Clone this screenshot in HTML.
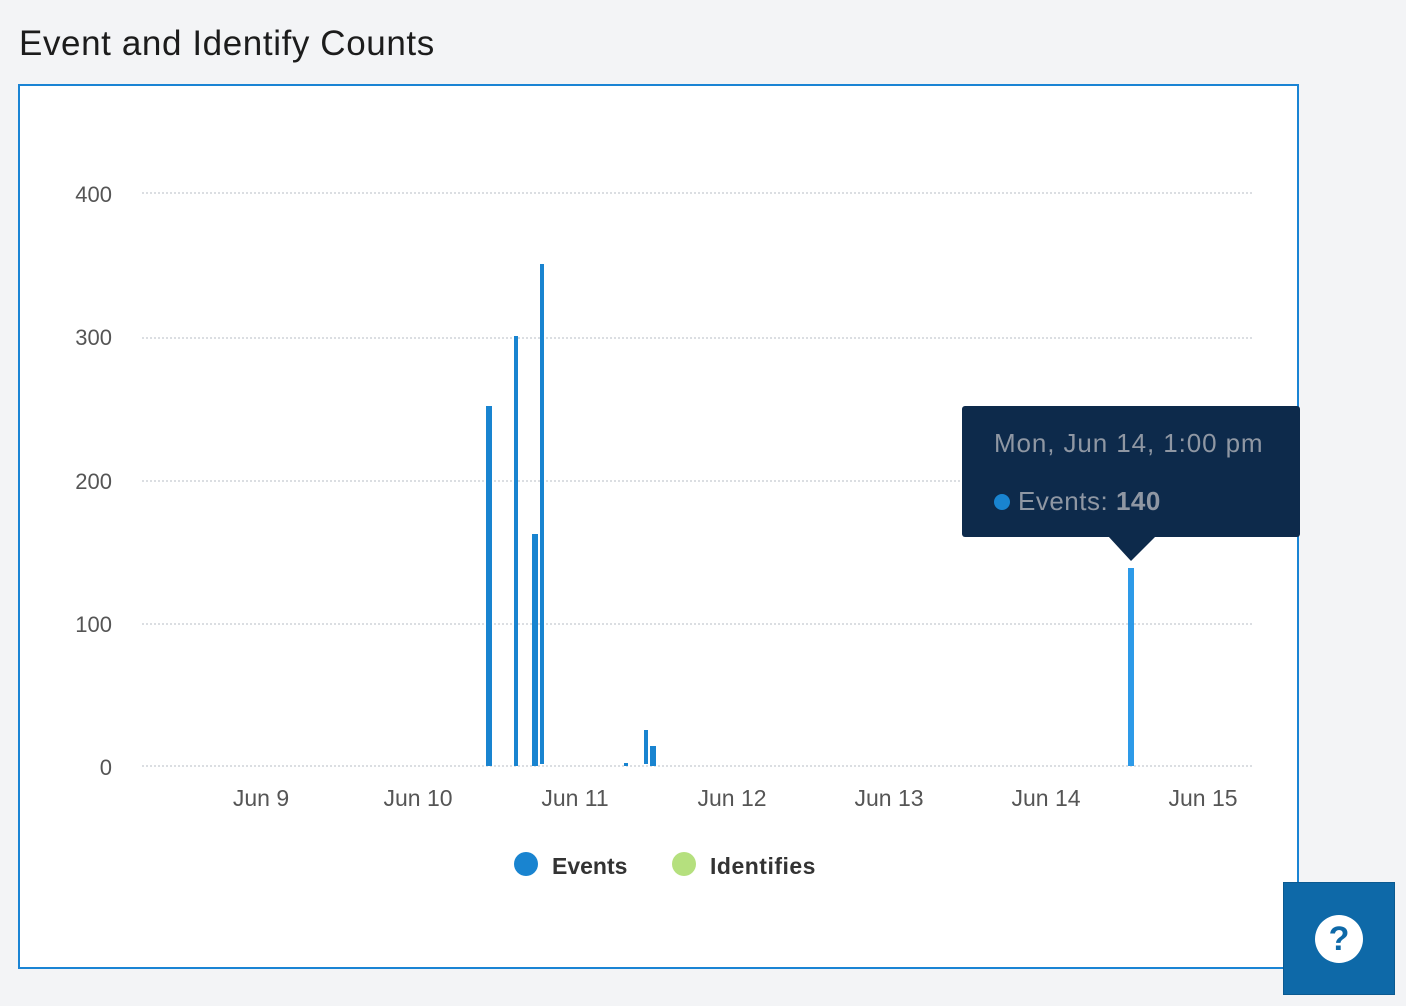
<!DOCTYPE html>
<html><head><meta charset="utf-8"><style>
body{margin:0;width:1406px;height:1006px;background:#f3f4f6;font-family:"Liberation Sans",sans-serif;position:relative;overflow:hidden}
.t{position:absolute;left:19px;top:24px;font-size:35px;color:#1c1c1c;letter-spacing:0.6px}
.panel{position:absolute;left:18px;top:84px;width:1277px;height:881px;background:#fff;border:2px solid #1a84d4}
svg{position:absolute;left:0;top:0}
.help{position:absolute;left:1283px;top:882px;width:110px;height:111px;background:#0e69a8;border:1px solid #0b5a91}
.help div{position:absolute;left:31px;top:32px;width:48px;height:48px;border-radius:50%;background:#fff;color:#0e69a8;font:bold 34px "Liberation Sans",sans-serif;text-align:center;line-height:48px}
</style></head><body>
<div class="t">Event and Identify Counts</div>
<div class="panel"></div>
<svg width="1406" height="1006" font-family="Liberation Sans, sans-serif">
<g stroke="#cfd3d8" stroke-width="1.5" stroke-dasharray="2,2">
<line x1="142" x2="1252" y1="193" y2="193"/><line x1="142" x2="1252" y1="338" y2="338"/>
<line x1="142" x2="1252" y1="481" y2="481"/><line x1="142" x2="1252" y1="624" y2="624"/>
<line x1="142" x2="1252" y1="766" y2="766"/></g>
<g font-size="22" fill="#555" text-anchor="end">
<text x="112" y="202">400</text><text x="112" y="345">300</text><text x="112" y="489">200</text><text x="112" y="632">100</text><text x="112" y="775">0</text></g>
<g font-size="23" fill="#555" text-anchor="middle">
<text x="261" y="806">Jun 9</text><text x="418" y="806">Jun 10</text><text x="575" y="806">Jun 11</text><text x="732" y="806">Jun 12</text><text x="889" y="806">Jun 13</text><text x="1046" y="806">Jun 14</text><text x="1203" y="806">Jun 15</text></g>
<g fill="#1984d0">
<rect x="486" y="406" width="6" height="360"/><rect x="514" y="336" width="4" height="430"/>
<rect x="532" y="534" width="6" height="232"/><rect x="540" y="264" width="4" height="500"/>
<rect x="624" y="763" width="4" height="3"/><rect x="644" y="730" width="4" height="34"/>
<rect x="650" y="746" width="6" height="20"/></g>
<rect x="1128" y="568" width="6" height="198" fill="#2d9ae8"/>
<rect x="962" y="406" width="338" height="131" rx="3" fill="#0d2a4b"/>
<polygon points="1108,536 1156,536 1131,561" fill="#0d2a4b"/>
<text x="994" y="452" font-size="26" fill="#8f97a3" letter-spacing="0.9">Mon, Jun 14, 1:00 pm</text>
<circle cx="1002" cy="502" r="8" fill="#1984d0"/>
<text x="1018" y="510" font-size="26" fill="#8f97a3" letter-spacing="0.5">Events: <tspan font-weight="bold">140</tspan></text>
<circle cx="526" cy="864" r="12" fill="#1984d0"/>
<text x="552" y="874" font-size="23" font-weight="bold" fill="#333">Events</text>
<circle cx="684" cy="864" r="12" fill="#b5e07e"/>
<text x="710" y="874" font-size="23" font-weight="bold" fill="#333" letter-spacing="0.5">Identifies</text>
</svg>
<div class="help"><div>?</div></div>
</body></html>
